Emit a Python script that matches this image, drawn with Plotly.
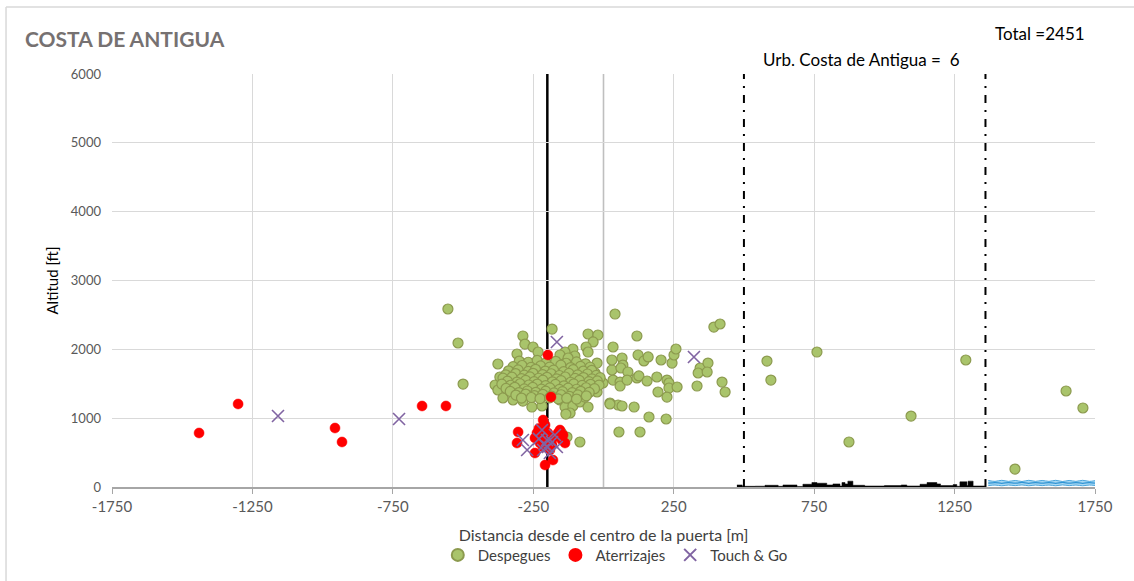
import plotly.graph_objects as go

# ---------------- data ----------------
desp_x = [-554, -518, -500, -376, -386, -369, -376, -358, -322, -287, -255, -219, -155, -137, -109, -84, -55, -66, -23, -119, 23, 52,
          -287, -183, -280, -251, -308, -233, -55, -20, -37, -62, -55, -109, -137, -102, -155, -126, -23, -59, 30, -30,
          41, 119, 34, 30, 66, 69, 62, 87, 123, 144, 159, 205, 244, 251, 258, 393, 415, 344, 337, 372, 369, 422, 433, 333,
          -12, -2, 34, 59, 59, 84, 119, 126, 155, 190, 226, 233, 233, 262, 194, 226, 23, 66, 109, 162, 223, 55, 130,
          582, 596, 760, 874, 1095, 1290, 1465, 1647, 1707,
          -84, -134, -130, -150,
          -300, -268, -236, -205, -170, -133, -96, -64,
          -322, -290, -258, -224, -192, -152, -117, -82, -48,
          -338, -304, -268, -242, -207, -178, -142, -108, -72, -42,
          -348, -313, -282, -251, -217, -186, -157, -123, -92, -57, -26,
          -358, -326, -292, -262, -231, -201, -167, -136, -101, -71, -41, -12,
          -342, -308, -277, -247, -216, -182, -151, -117, -86, -52, -22,
          -362, -331, -297, -266, -236, -206, -171, -141, -106, -76, -46, -16,
          -347, -316, -282, -252, -221, -191, -157, -126, -96, -62, -32,
          -332, -301, -271, -241, -206, -176, -146, -111, -81, -51,
          -312, -277, -246, -216, -186, -151, -121, -91, -61,
          -292, -257, -226, -192, -161, -131, -96]
desp_y = [2586, 2092, 1496, 1787, 1482, 1598, 1409, 1293, 1264, 1249, 1162, 1177, 1264, 1162, 1177, 1235, 1162, 1307, 1380, 1075, 1220, 1191,
          2194, 2295, 2077, 2034, 1932, 1961, 2223, 2208, 2107, 2034, 1961, 2005, 1961, 1903, 1918, 1874, 1801, 1729, 1700, 1656,
          2513, 2194, 2034, 1845, 1874, 1772, 1729, 1671, 1918, 1831, 1889, 1845, 1801, 1918, 2005, 2324, 2368, 1729, 1656, 1801, 1671, 1525, 1380, 1467,
          1554, 1511, 1554, 1525, 1467, 1554, 1584, 1613, 1540, 1598, 1554, 1511, 1438, 1453, 1380, 1307, 1206, 1177, 1162, 1017, 988, 799, 799,
          1830, 1554, 1961, 654, 1031, 1845, 261, 1395, 1148,
          654, 1060, 726, 790,
          1830, 1812, 1840, 1805, 1826, 1798, 1818, 1790,
          1748, 1765, 1738, 1760, 1742, 1770, 1735, 1752, 1740,
          1688, 1702, 1680, 1710, 1684, 1698, 1676, 1705, 1684, 1695,
          1630, 1648, 1625, 1652, 1634, 1645, 1620, 1650, 1628, 1642, 1622,
          1582, 1596, 1575, 1600, 1580, 1594, 1572, 1598, 1578, 1590, 1570, 1588,
          1538, 1525, 1548, 1530, 1552, 1528, 1545, 1522, 1548, 1530, 1542,
          1495, 1478, 1500, 1482, 1496, 1472, 1490, 1470, 1498, 1476, 1492, 1480,
          1432, 1448, 1426, 1446, 1422, 1440, 1418, 1436, 1420, 1442, 1428,
          1388, 1372, 1395, 1376, 1392, 1368, 1386, 1370, 1390, 1374,
          1336, 1350, 1328, 1345, 1322, 1340, 1318, 1338, 1325,
          1292, 1300, 1285, 1296, 1280, 1290, 1278]

ater_x = [-1440, -1301, -956, -931, -646, -561, -198, -187, -304, -308, -215, -208, -237, -244, -226, -244, -215, -208,
          -180, -191, -162, -148, -144, -173, -198, -201, -137, -183, -155, -230, -220]
ater_y = [785, 1206, 857, 654, 1177, 1177, 1918, 1307, 799, 639, 973, 901, 785, 712, 639, 494, 581, 320,
          392, 537, 785, 683, 755, 726, 785, 683, 639, 610, 828, 850, 760]

tg_x = [-1159, -728, -166, 322, -287, -272, -219, -201, -183, -173, -198, -166, -215, -191, -230, -210]
tg_y = [1031, 988, 2107, 1889, 683, 537, 828, 683, 654, 755, 581, 581, 537, 494, 700, 620]

# building profile (step edges and heights, ft)
bld_x = [475, 494, 540, 575, 622, 639, 689, 710, 742, 760, 795, 817, 842, 849, 860, 870, 888, 930, 1000, 1060,
         1080, 1127, 1152, 1187, 1200, 1245, 1258, 1269, 1294, 1298, 1316, 1358]
bld_h = [30, 10, 12, 25, 10, 30, 8, 40, 65, 55, 30, 45, 15, 65, 45, 85, 25, 15, 20, 30,
         15, 40, 65, 45, 20, 35, 10, 75, 20, 85, 15, 0]

# sea band
water_x = [1370, 1394, 1418, 1442, 1466, 1490, 1514, 1538, 1562, 1586, 1610, 1634, 1658, 1682, 1706, 1730, 1750]
water_top = [95, 82, 97, 82, 95, 80, 97, 82, 95, 82, 97, 80, 95, 82, 97, 82, 92]
water_mid = [55, 65, 53, 65, 55, 67, 53, 65, 55, 65, 53, 67, 55, 65, 53, 65, 57]
water_low = [20, 28, 18, 28, 20, 30, 18, 28, 20, 28, 18, 30, 20, 28, 18, 28, 22]

x_ticks = [-1750, -1250, -750, -250, 250, 750, 1250, 1750]
y_ticks = [0, 1000, 2000, 3000, 4000, 5000, 6000]

gate_center = -200
gate_ref = 0
zone_limits = [500, 1360]

FONT = "Lato"

fig = go.Figure()

# buildings
fig.add_trace(go.Scatter(x=bld_x, y=bld_h, mode="lines", line=dict(color="black", width=0.5, shape="hv"),
                         fill="tozeroy", fillcolor="black", showlegend=False, hoverinfo="skip"))
# water
fig.add_trace(go.Scatter(x=water_x, y=water_low, mode="lines", line=dict(color="#4aa6dd", width=1, shape="spline"),
                         showlegend=False, hoverinfo="skip"))
fig.add_trace(go.Scatter(x=water_x, y=water_top, mode="lines", line=dict(color="#4aa6dd", width=1, shape="spline"),
                         fill="tonexty", fillcolor="#a8d8f3", showlegend=False, hoverinfo="skip"))
fig.add_trace(go.Scatter(x=water_x, y=water_mid, mode="lines", line=dict(color="#2f93d3", width=1.2, shape="spline"),
                         showlegend=False, hoverinfo="skip"))

fig.add_trace(go.Scatter(x=desp_x, y=desp_y, mode="markers", name="Despegues",
                         marker=dict(symbol="circle", size=10, color="#a9c46b",
                                     line=dict(color="#8c9a4e", width=1.2))))
fig.add_trace(go.Scatter(x=ater_x, y=ater_y, mode="markers", name="Aterrizajes",
                         marker=dict(symbol="circle", size=10, color="#ff0000",
                                     line=dict(color="#ff0000", width=0.5))))
fig.add_trace(go.Scatter(x=tg_x, y=tg_y, mode="markers", name="Touch & Go",
                         marker=dict(symbol="x-thin", size=12, color="#8064a2",
                                     line=dict(color="#8064a2", width=1.6))))

shapes = [
    dict(type="line", xref="x", yref="paper", x0=gate_ref, x1=gate_ref, y0=0, y1=1,
         line=dict(color="#bfbfbf", width=1.6), layer="below"),
    dict(type="line", xref="x", yref="paper", x0=gate_center, x1=gate_center, y0=0, y1=1,
         line=dict(color="black", width=2.5), layer="below"),
]
for zl in zone_limits:
    shapes.append(dict(type="line", xref="x", yref="paper", x0=zl, x1=zl, y0=0, y1=1,
                       line=dict(color="black", width=2, dash="8px,7px,2px,7px"), layer="below"))
# outer chart border (left and top visible)
shapes.append(dict(type="line", xref="paper", yref="paper", x0=-0.1078, x1=-0.1078, y0=1.162, y1=-0.25,
                   line=dict(color="#d9d9d9", width=1.5)))
shapes.append(dict(type="line", xref="paper", yref="paper", x0=-0.1078, x1=1.05, y0=1.162, y1=1.162,
                   line=dict(color="#d9d9d9", width=1.5)))

annotations = [
    dict(text="<b>COSTA DE ANTIGUA</b>", xref="paper", yref="paper", x=-0.0905, y=1.087,
         xanchor="left", yanchor="middle", showarrow=False, font=dict(family=FONT, size=21, color="#767171")),
    dict(text="Total =2451", xref="paper", yref="paper", x=0.896, y=1.097,
         xanchor="left", yanchor="middle", showarrow=False, font=dict(family=FONT, size=17, color="black")),
    dict(text="Urb. Costa de Antigua =  6", xref="paper", yref="paper", x=0.660, y=1.034,
         xanchor="left", yanchor="middle", showarrow=False, font=dict(family=FONT, size=17, color="black")),
]

fig.update_layout(
    width=1134, height=581,
    margin=dict(l=112, r=39, t=74, b=94, autoexpand=False),
    paper_bgcolor="white", plot_bgcolor="white",
    font=dict(family=FONT, color="#595959"),
    shapes=shapes, annotations=annotations,
    legend=dict(orientation="h", x=0.512, xanchor="center", y=-0.165, yanchor="middle",
                traceorder="normal",
                font=dict(family=FONT, size=15, color="#404040"), itemsizing="constant",
                tracegroupgap=0, itemwidth=30),
    xaxis=dict(range=[-1750, 1750], tickvals=x_ticks, ticktext=[str(v) for v in x_ticks],
               showgrid=True, gridcolor="#d9d9d9", gridwidth=1, zeroline=False,
               showline=True, linecolor="#a6a6a6", linewidth=1.5,
               ticks="outside", ticklen=5, tickcolor="#a6a6a6", automargin=False,
               tickfont=dict(family=FONT, size=15, color="#595959"),
               title=dict(text="Distancia desde el centro de la puerta [m]",
                          font=dict(family=FONT, size=16, color="#404040"), standoff=16)),
    yaxis=dict(range=[0, 6000], tickvals=y_ticks, ticktext=[str(v) for v in y_ticks],
               showgrid=True, gridcolor="#d9d9d9", gridwidth=1, zeroline=False,
               showline=False, ticks="", ticklen=0, ticklabelstandoff=10, automargin=False,
               tickfont=dict(family=FONT, size=13, color="#595959"),
               title=dict(text="Altitud [ft]", font=dict(family=FONT, size=15, color="black"), standoff=8)),
)

fig.write_html("out.html", config={"displayModeBar": False},
               post_script="document.body.style.margin='0';")
